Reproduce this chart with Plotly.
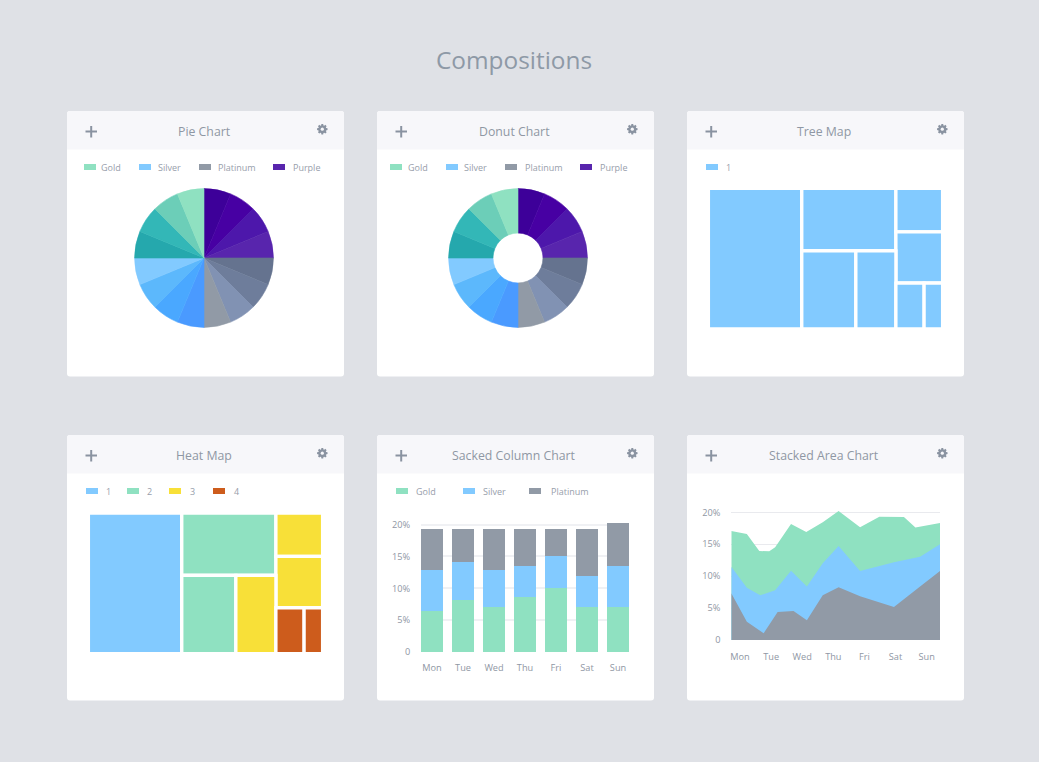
import math
import plotly.graph_objects as go

W, H = 1039, 762
FONT = "Open Sans"
TXT = "#8f97a4"
GOLD, SILVER, PLAT, PURPLE = "#8fe1c1", "#82caff", "#919aa6", "#5825ad"
YELLOW, ORANGE = "#f8e038", "#cd5c1c"

# ---------- data ----------
pie_labels = [f"s{i}" for i in range(1, 17)]
pie_values = [1] * 16
pie_colors = ["#3d0099", "#4700a3", "#4d17ab", "#5825ad",
              "#65738f", "#6e7d9b", "#8192b3", "#919aa6",
              "#4a9aff", "#4aa8ff", "#5cb8fc", "#82caff",
              "#25a8ad", "#33b7b7", "#6cceb8", "#8fe1c1"]

tree_ids = ["root", "a", "mid", "right", "b", "midlow", "c", "d", "e", "f", "rlow", "g", "h"]
tree_parents = ["", "root", "root", "root", "mid", "mid", "midlow", "midlow",
                "right", "right", "right", "rlow", "rlow"]
tree_values = [0, 12.7, 0, 0, 5.68, 0, 4.09, 3.03, 1.96, 2.32, 0, 1.25, 0.82]
heat_groups = [None, 1, None, None, 2, None, 2, 3, 3, 3, None, 4, 4]

days = ["Mon", "Tue", "Wed", "Thu", "Fri", "Sat", "Sun"]
bar_gold = [6.5, 8.2, 7.1, 8.7, 10.1, 7.1, 7.1]
bar_silver = [6.4, 6.0, 5.8, 4.75, 5.0, 4.9, 6.35]
bar_plat = [6.4, 5.1, 6.4, 5.85, 4.2, 7.3, 6.85]

area_top_x = [-0.28, 0.22, 0.62, 0.94, 1.13, 1.64, 2.13, 2.66, 3.17, 3.86, 4.48, 5.27, 5.64, 6.43]
area_top_y = [17.08, 16.6, 13.94, 13.89, 14.52, 18.17, 16.92, 18.43, 20.2, 17.65, 19.32, 19.27, 17.6, 18.33]
area_mid_x = [-0.28, 0.22, 0.65, 1.13, 1.64, 2.15, 2.66, 3.17, 3.86, 4.48, 4.95, 5.79, 6.43]
area_mid_y = [11.49, 8.2, 7.0, 7.78, 10.86, 8.36, 12.0, 14.73, 10.81, 11.64, 12.17, 13.05, 14.99]
area_low_x = [-0.28, 0.22, 0.76, 1.21, 1.72, 2.15, 2.66, 3.17, 3.86, 4.95, 5.79, 6.43]
area_low_y = [7.31, 2.87, 1.04, 4.39, 4.54, 3.08, 7.0, 8.25, 6.84, 5.17, 8.36, 10.81]

y_ticks = [0, 5, 10, 15, 20]
y_labels = ["0", "5%", "10%", "15%", "20%"]

panels = [(67, 111, "Pie Chart"), (377, 111, "Donut Chart"), (687, 111, "Tree Map"),
          (67, 435, "Heat Map"), (377, 435, "Sacked Column Chart"), (687, 435, "Stacked Area Chart")]

legends = [
    (167, [(84, 101, GOLD, "Gold"), (139, 158, SILVER, "Silver"), (199, 218, PLAT, "Platinum"), (273, 293, PURPLE, "Purple")]),
    (167, [(390, 408, GOLD, "Gold"), (446, 464, SILVER, "Silver"), (505, 525, PLAT, "Platinum"), (580, 600, PURPLE, "Purple")]),
    (167, [(706, 726, SILVER, "1")]),
    (491, [(86, 106, SILVER, "1"), (127, 147, GOLD, "2"), (169, 190, YELLOW, "3"), (213, 234, ORANGE, "4")]),
    (491, [(396, 416, GOLD, "Gold"), (463, 483, SILVER, "Silver"), (529, 551, PLAT, "Platinum")]),
]


# ---------- helpers ----------
def px(x):
    return x / W


def py(y):
    return 1 - y / H


def box(x0, x1, y0, y1):
    return dict(x=[px(x0), px(x1)], y=[py(y1), py(y0)])


shapes, annos = [], []


def paper_shape(**kw):
    shapes.append(dict(xref="paper", yref="paper", layer="below", **kw))


def label(x, y, text, size, color=TXT, anchor="center", family=FONT):
    annos.append(dict(xref="paper", yref="paper", x=px(x), y=py(y), text=text, showarrow=False,
                      xanchor=anchor, yanchor="middle", font=dict(family=family, size=size, color=color)))


def rounded(x0, y0, x1, y1, r_top, r_bot):
    X = lambda v: px(v)
    Y = lambda v: py(v)
    return (f"M {X(x0 + r_top)} {Y(y0)} L {X(x1 - r_top)} {Y(y0)} Q {X(x1)} {Y(y0)} {X(x1)} {Y(y0 + r_top)} "
            f"L {X(x1)} {Y(y1 - r_bot)} Q {X(x1)} {Y(y1)} {X(x1 - r_bot)} {Y(y1)} "
            f"L {X(x0 + r_bot)} {Y(y1)} Q {X(x0)} {Y(y1)} {X(x0)} {Y(y1 - r_bot)} "
            f"L {X(x0)} {Y(y0 + r_top)} Q {X(x0)} {Y(y0)} {X(x0 + r_top)} {Y(y0)} Z")


def gear(cx, cy, r_out, r_in, teeth=8):
    pts = []
    step = 2 * math.pi / teeth
    for i in range(teeth):
        a = i * step
        for da, r in ((-0.30, r_in), (-0.17, r_out), (0.17, r_out), (0.30, r_in)):
            pts.append((cx + r * math.cos(a + da * step / 0.785), cy + r * math.sin(a + da * step / 0.785)))
    return "M " + " L ".join(f"{px(a)} {py(b)}" for a, b in pts) + " Z"


def disc(cx, cy, r):
    return dict(type="circle", x0=px(cx - r), x1=px(cx + r), y0=py(cy - r), y1=py(cy + r))


ICON = "#8a93a1"
for x, y, title in panels:
    paper_shape(type="path", path=rounded(x, y, x + 277, y + 265.5, 3, 3), fillcolor="white", line=dict(width=0))
    paper_shape(type="path", path=rounded(x, y, x + 277, y + 38.5, 3, 0), fillcolor="#f7f7fa", line=dict(width=0))
    paper_shape(type="line", x0=px(x + 18.5), x1=px(x + 30), y0=py(y + 20.5), y1=py(y + 20.5), line=dict(color=ICON, width=2))
    paper_shape(type="line", x0=px(x + 24.2), x1=px(x + 24.2), y0=py(y + 15), y1=py(y + 26.5), line=dict(color=ICON, width=2))
    label(x + 137, y + 20.5, title, 12.3)
    paper_shape(type="path", path=gear(x + 255.3, y + 18.2, 5.3, 4.0), fillcolor=ICON, line=dict(width=0))
    paper_shape(fillcolor="#f7f7fa", line=dict(width=0), **disc(x + 255.3, y + 18.2, 1.6))

for ly, items in legends:
    for sx, tx, color, name in items:
        paper_shape(type="rect", x0=px(sx), x1=px(sx + 12), y0=py(ly + 3), y1=py(ly - 3), fillcolor=color, line=dict(width=0))
        label(tx - 2, ly, name, 9, color="#979eab", anchor="left")

label(514, 59, "Compositions", 24.4, color="#8e99a6")

# ---------- figure ----------
fig = go.Figure()

pie_common = dict(labels=pie_labels, values=pie_values, sort=False, direction="clockwise", rotation=0,
                  textinfo="none", showlegend=False, hoverinfo="skip",
                  marker=dict(colors=pie_colors, line=dict(color=pie_colors, width=0.6)))
fig.add_trace(go.Pie(domain=box(134.6, 273.4, 188.6, 327.4), **pie_common))
fig.add_trace(go.Pie(domain=box(448.6, 587.4, 188.6, 327.4), hole=0.36, **pie_common))

tree_common = dict(ids=tree_ids, labels=tree_ids, parents=tree_parents, values=tree_values,
                   branchvalues="remainder", sort=False, textinfo="none", hoverinfo="skip",
                   tiling=dict(packing="slice-dice", pad=0),
                   pathbar=dict(visible=False), root=dict(color="white"))
tree_palette = {None: "white", 1: SILVER, 2: GOLD, 3: YELLOW, 4: ORANGE}
fig.add_trace(go.Treemap(domain=box(708.4, 942.6, 188.4, 329.0),
                         marker=dict(colors=[SILVER if g else "white" for g in heat_groups],
                                     line=dict(color="white", width=3.3), pad=dict(t=0, l=0, r=0, b=0)),
                         **tree_common))
fig.add_trace(go.Treemap(domain=box(88.4, 322.6, 513.0, 653.6),
                         marker=dict(colors=[tree_palette[g] for g in heat_groups],
                                     line=dict(color="white", width=3.3), pad=dict(t=0, l=0, r=0, b=0)),
                         **tree_common))

for vals, color in ((bar_gold, GOLD), (bar_silver, SILVER), (bar_plat, PLAT)):
    fig.add_trace(go.Bar(x=days, y=vals, marker=dict(color=color, line=dict(width=0)), width=0.68,
                         xaxis="x", yaxis="y", showlegend=False, hoverinfo="skip"))

for xs, ys, color in ((area_top_x, area_top_y, GOLD), (area_mid_x, area_mid_y, SILVER), (area_low_x, area_low_y, PLAT)):
    fig.add_trace(go.Scatter(x=xs, y=ys, mode="lines", line=dict(width=0), fill="tozeroy", fillcolor=color,
                             xaxis="x2", yaxis="y2", showlegend=False, hoverinfo="skip"))

tick_font = dict(family=FONT, size=9.2, color=TXT)
fig.update_layout(
    width=W, height=H, autosize=False, margin=dict(l=0, r=0, t=0, b=0, pad=0),
    paper_bgcolor="#dfe1e6", plot_bgcolor="rgba(0,0,0,0)", barmode="stack", bargap=0.32,
    shapes=shapes, annotations=annos,
    xaxis=dict(domain=[px(421), px(629)], range=[-0.355, 6.355], type="category", categoryorder="array",
               categoryarray=days, anchor="y", showgrid=False, zeroline=False, showline=False, automargin=False,
               ticks="outside", ticklen=7, tickcolor="rgba(0,0,0,0)", tickfont=tick_font),
    yaxis=dict(domain=[py(652), py(518.2)], range=[0, 21], anchor="x", tickvals=y_ticks, ticktext=y_labels,
               gridcolor="#f0f1f4", gridwidth=1.5, zeroline=False, showline=False, automargin=False,
               ticks="outside", ticklen=8, tickcolor="rgba(0,0,0,0)", tickfont=tick_font),
    xaxis2=dict(domain=[px(731.3), px(940)], range=[-0.28, 6.43], anchor="y2", tickvals=list(range(7)), ticktext=days,
                showgrid=False, zeroline=False, showline=False, automargin=False,
                ticks="outside", ticklen=8, tickcolor="rgba(0,0,0,0)", tickfont=tick_font),
    yaxis2=dict(domain=[py(640), py(505.9)], range=[0, 21], anchor="x2", tickvals=y_ticks, ticktext=y_labels,
                gridcolor="#e9eaee", gridwidth=1, zeroline=False, showline=False, automargin=False,
                ticks="outside", ticklen=8, tickcolor="rgba(0,0,0,0)", tickfont=tick_font),
)

fig.write_html("out.html", config=dict(displayModeBar=False),
               post_script="document.body.style.margin='0';document.body.style.background='#dfe1e6';document.body.style.overflow='hidden';")
